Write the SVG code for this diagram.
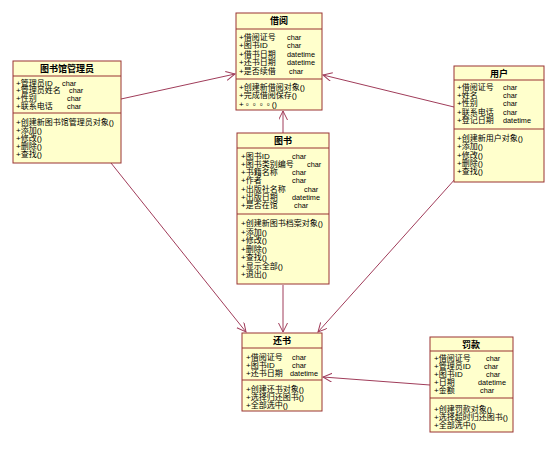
<svg xmlns="http://www.w3.org/2000/svg" width="554" height="449" viewBox="0 0 554 449">
<style>
.box{fill:#FFFFCC;stroke:#993333;stroke-width:1}
.sep{stroke:#993333;stroke-width:1}
.t{font-family:"Liberation Sans","Noto Sans CJK SC",sans-serif;font-size:8px;fill:#000}
.ty{font-family:"Liberation Sans",sans-serif;font-size:7.3px;fill:#000}
.h{font-family:"Liberation Sans","Noto Sans CJK SC",sans-serif;font-size:9px;font-weight:bold;fill:#000;text-anchor:middle}
.c{stroke:#A03C5A;stroke-width:1;fill:none;marker-end:url(#arr)}
</style>
<defs>
<marker id="arr" markerUnits="userSpaceOnUse" markerWidth="12" markerHeight="12" refX="9" refY="4.5" orient="auto">
<path d="M0,0 L9,4.5 L0,9" fill="none" stroke="#A03C5A" stroke-width="1"/>
</marker>
</defs>
<rect width="554" height="449" fill="#fff"/>
<g id="connectors">
<line class="c" x1="121" y1="99" x2="235" y2="74"/>
<line class="c" x1="454" y1="107" x2="323" y2="75"/>
<line class="c" x1="283" y1="133" x2="283" y2="111"/>
<line class="c" x1="111" y1="163" x2="246" y2="332"/>
<line class="c" x1="283" y1="285" x2="283" y2="332"/>
<line class="c" x1="456" y1="178" x2="318" y2="332"/>
<line class="c" x1="430" y1="385" x2="323" y2="377"/>
</g>
<g id="jieyue">
<rect class="box" x="236" y="13" width="86" height="97"/>
<line class="sep" x1="236" y1="29" x2="322" y2="29"/>
<line class="sep" x1="236" y1="79" x2="322" y2="79"/>
<text class="h" x="279" y="24">借阅</text>
<text class="t" x="239" y="40">+借阅证号</text><text class="ty" x="287" y="40">char</text>
<text class="t" x="239" y="48.4">+图书ID</text><text class="ty" x="287" y="48.4">char</text>
<text class="t" x="239" y="56.8">+借书日期</text><text class="ty" x="287" y="56.8">datetime</text>
<text class="t" x="239" y="65.2">+还书日期</text><text class="ty" x="287" y="65.2">datetime</text>
<text class="t" x="239" y="73.6">+是否续借</text><text class="ty" x="289" y="73.6">char</text>
<text class="t" x="239" y="89.5">+创建新借阅对象()</text>
<text class="t" x="239" y="97.9">+完成借阅保存()</text>
<text class="t" x="239" y="106.8">+<tspan font-family="Noto Sans CJK TC, sans-serif" font-size="7px">。。。。</tspan>()</text>
</g>
<g id="admin">
<rect class="box" x="13" y="61" width="108" height="102"/>
<line class="sep" x1="13" y1="76" x2="121" y2="76"/>
<line class="sep" x1="13" y1="113" x2="121" y2="113"/>
<text class="h" x="67" y="71.5">图书馆管理员</text>
<text class="t" x="16" y="85.5">+管理员ID</text><text class="ty" x="62" y="85.5">char</text>
<text class="t" x="16" y="93.3">+管理员姓名</text><text class="ty" x="69" y="93.3">char</text>
<text class="t" x="16" y="101">+性别</text><text class="ty" x="67" y="101">char</text>
<text class="t" x="16" y="108.8">+联系电话</text><text class="ty" x="67" y="108.8">char</text>
<text class="t" x="16" y="125">+创建新图书馆管理员对象()</text>
<text class="t" x="16" y="133">+添加()</text>
<text class="t" x="16" y="141">+修改()</text>
<text class="t" x="16" y="149">+删除()</text>
<text class="t" x="16" y="157">+查找()</text>
</g>
<g id="user">
<rect class="box" x="454" y="66" width="90" height="116"/>
<line class="sep" x1="454" y1="80" x2="544" y2="80"/>
<line class="sep" x1="454" y1="129" x2="544" y2="129"/>
<text class="h" x="499" y="76.5">用户</text>
<text class="t" x="457" y="90">+借阅证号</text><text class="ty" x="503" y="90">char</text>
<text class="t" x="457" y="98.2">+姓名</text><text class="ty" x="503" y="98.2">char</text>
<text class="t" x="457" y="106.4">+性别</text><text class="ty" x="503" y="106.4">char</text>
<text class="t" x="457" y="114.6">+联系电话</text><text class="ty" x="503" y="114.6">char</text>
<text class="t" x="457" y="122.8">+登记日期</text><text class="ty" x="503" y="122.8">datetime</text>
<text class="t" x="457" y="141">+创建新用户对象()</text>
<text class="t" x="457" y="149.3">+添加()</text>
<text class="t" x="457" y="157.6">+修改()</text>
<text class="t" x="457" y="165.9">+删除()</text>
<text class="t" x="457" y="174.2">+查找()</text>
</g>
<g id="book">
<rect class="box" x="237" y="133" width="92" height="151"/>
<line class="sep" x1="237" y1="148" x2="329" y2="148"/>
<line class="sep" x1="237" y1="214" x2="329" y2="214"/>
<text class="h" x="283" y="144">图书</text>
<text class="t" x="241" y="158.5">+图书ID</text><text class="ty" x="292" y="158.5">char</text>
<text class="t" x="241" y="166.8">+图书类别编号</text><text class="ty" x="307" y="166.8">char</text>
<text class="t" x="241" y="175.1">+书籍名称</text><text class="ty" x="292" y="175.1">char</text>
<text class="t" x="241" y="183.4">+作者</text><text class="ty" x="292" y="183.4">char</text>
<text class="t" x="241" y="191.7">+出版社名称</text><text class="ty" x="304" y="191.7">char</text>
<text class="t" x="241" y="200">+出版日期</text><text class="ty" x="292" y="200">datetime</text>
<text class="t" x="241" y="208.3">+是否在馆</text><text class="ty" x="294" y="208.3">char</text>
<text class="t" x="241" y="226">+创建新图书档案对象()</text>
<text class="t" x="241" y="234.5">+添加()</text>
<text class="t" x="241" y="243">+修改()</text>
<text class="t" x="241" y="251.5">+删除()</text>
<text class="t" x="241" y="260">+查找()</text>
<text class="t" x="241" y="268.5">+显示全部()</text>
<text class="t" x="241" y="277">+退出()</text>
</g>
<g id="return">
<rect class="box" x="242" y="333" width="80" height="78"/>
<line class="sep" x1="242" y1="348" x2="322" y2="348"/>
<line class="sep" x1="242" y1="380" x2="322" y2="380"/>
<text class="h" x="282" y="344">还书</text>
<text class="t" x="246" y="359.5">+借阅证号</text><text class="ty" x="292" y="359.5">char</text>
<text class="t" x="246" y="367.8">+图书ID</text><text class="ty" x="292" y="367.8">char</text>
<text class="t" x="246" y="376.1">+还书日期</text><text class="ty" x="290" y="376.1">datetime</text>
<text class="t" x="246" y="391.5">+创建还书对象()</text>
<text class="t" x="246" y="399.8">+选择归还图书()</text>
<text class="t" x="246" y="408.1">+全部选中()</text>
</g>
<g id="fine">
<rect class="box" x="430" y="337" width="83" height="95"/>
<line class="sep" x1="430" y1="351" x2="513" y2="351"/>
<line class="sep" x1="430" y1="398" x2="513" y2="398"/>
<text class="h" x="471" y="347.5">罚款</text>
<text class="t" x="434" y="361">+借阅证号</text><text class="ty" x="486" y="361">char</text>
<text class="t" x="434" y="369">+管理员ID</text><text class="ty" x="484" y="369">char</text>
<text class="t" x="434" y="377">+图书ID</text><text class="ty" x="486" y="377">char</text>
<text class="t" x="434" y="385">+日期</text><text class="ty" x="478" y="385">datetime</text>
<text class="t" x="434" y="393">+金额</text><text class="ty" x="480" y="393">char</text>
<text class="t" x="434" y="412">+创建罚款对象()</text>
<text class="t" x="434" y="420">+选择超时归还图书()</text>
<text class="t" x="434" y="428">+全部选中()</text>
</g>
</svg>
